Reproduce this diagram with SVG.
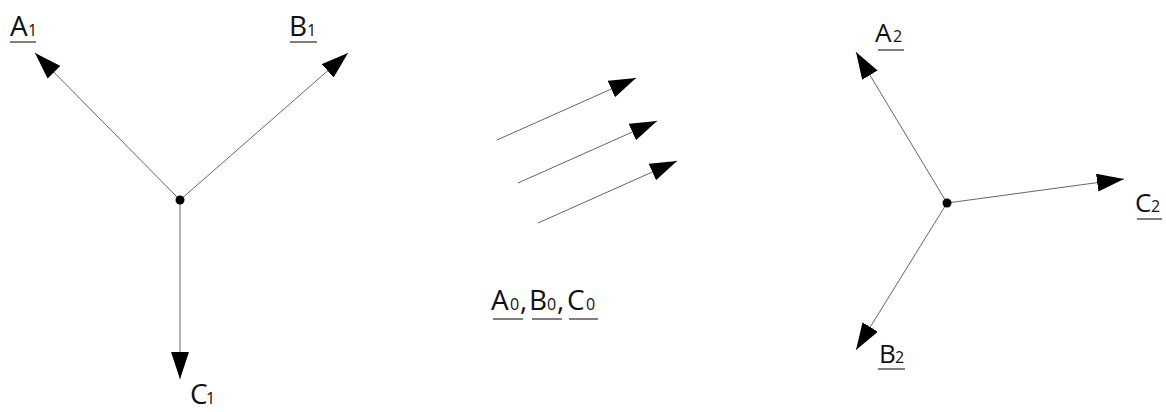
<svg xmlns="http://www.w3.org/2000/svg" width="1166" height="412" viewBox="0 0 1166 412">
<style>
.lbl{font-family:"Open Sans","Liberation Sans",sans-serif;font-size:28px;fill:#111}
.lblr{font-family:"Open Sans","Liberation Sans",sans-serif;font-size:26px;fill:#111}
.sub{font-size:16px}
.ul{stroke:#555;stroke-width:1.5}
.vec{stroke:#666;stroke-width:1;fill:none;marker-end:url(#ah)}
.dot{fill:#000}
</style>
<defs>
<marker id="ah" markerUnits="userSpaceOnUse" markerWidth="27" markerHeight="18" viewBox="0 0 27 18" refX="27" refY="9" orient="auto">
<path d="M0,0 L27,9 L0,18 Z" fill="#000"/>
</marker>
</defs>
<rect width="1166" height="412" fill="#fff"/>
<g id="connectors">
<line class="vec" x1="180" y1="200" x2="35" y2="53"/>
<line class="vec" x1="180" y1="200" x2="348" y2="53"/>
<line class="vec" x1="180" y1="200" x2="180" y2="379"/>
<line class="vec" x1="497" y1="140" x2="636" y2="78"/>
<line class="vec" x1="518" y1="183" x2="657" y2="121"/>
<line class="vec" x1="538" y1="223" x2="677" y2="161"/>
<line class="vec" x1="947" y1="203" x2="856" y2="52"/>
<line class="vec" x1="947" y1="203" x2="1124" y2="179"/>
<line class="vec" x1="947" y1="203" x2="856" y2="350"/>
</g>
<g id="center1"><circle class="dot" cx="180" cy="200" r="4.5"/></g>
<g id="center2"><circle class="dot" cx="947" cy="203" r="4.5"/></g>
<g id="labelA1">
<text class="lbl" x="10" y="36">A<tspan class="sub" x="28">1</tspan></text>
<line class="ul" x1="10" y1="42" x2="36" y2="42"/>
</g>
<g id="labelB1">
<text class="lbl" x="289" y="36">B<tspan class="sub" x="307">1</tspan></text>
<line class="ul" x1="290" y1="42" x2="317" y2="42"/>
</g>
<g id="labelC1">
<text class="lbl" x="190" y="404">C<tspan class="sub" x="206">1</tspan></text>
</g>
<g id="labelABC0">
<text class="lbl" y="310"><tspan x="491">A</tspan><tspan class="sub" x="510">0</tspan><tspan x="520">,</tspan><tspan x="529">B</tspan><tspan class="sub" x="547">0</tspan><tspan x="557">,</tspan><tspan x="567">C</tspan><tspan class="sub" x="586">0</tspan></text>
<line class="ul" x1="493" y1="319" x2="523" y2="319"/>
<line class="ul" x1="532" y1="319" x2="562" y2="319"/>
<line class="ul" x1="569" y1="319" x2="598" y2="319"/>
</g>
<g id="labelA2">
<text class="lblr" x="875" y="42">A<tspan class="sub" x="893">2</tspan></text>
<line class="ul" x1="878" y1="50" x2="904" y2="50"/>
</g>
<g id="labelC2">
<text class="lblr" x="1135" y="212">C<tspan class="sub" x="1151">2</tspan></text>
<line class="ul" x1="1137" y1="219" x2="1162" y2="219"/>
</g>
<g id="labelB2">
<text class="lblr" x="879" y="363">B<tspan class="sub" x="895">2</tspan></text>
<line class="ul" x1="878" y1="369" x2="905" y2="369"/>
</g>
</svg>
